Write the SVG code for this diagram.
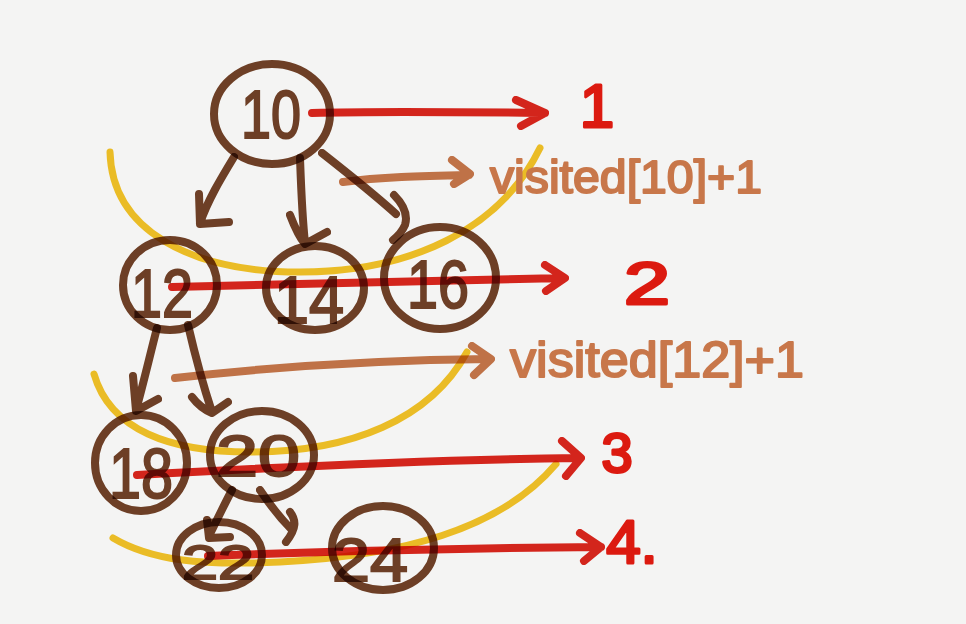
<svg xmlns="http://www.w3.org/2000/svg" width="966" height="624" viewBox="0 0 966 624">
<defs>
<style>
.bg{fill:#f4f4f3}
.node{fill:none;stroke:#724228;stroke-width:8;stroke-linecap:round;stroke-linejoin:round;mix-blend-mode:multiply}
.num{fill:#724228;stroke:#724228;stroke-width:2;font-family:"Liberation Sans",Arial,sans-serif;text-anchor:middle;mix-blend-mode:multiply}
.br{fill:none;stroke:#724228;stroke-width:8;stroke-linecap:round;stroke-linejoin:round;mix-blend-mode:multiply}
.red{fill:none;stroke:#dc1a10;stroke-width:8;stroke-linecap:round;stroke-linejoin:round;mix-blend-mode:multiply;opacity:0.95}
.org{fill:none;stroke:#c8774a;stroke-width:8;stroke-linecap:round;stroke-linejoin:round;mix-blend-mode:multiply}
.yel{fill:none;stroke:#f5c21c;stroke-width:7;stroke-linecap:round;mix-blend-mode:multiply;opacity:0.95}
.lbl{fill:#dc1a10;stroke:#dc1a10;stroke-width:3;stroke-linejoin:round;font-family:"Liberation Sans",Arial,sans-serif;text-anchor:middle}
.vis{fill:#c8774a;stroke:#c8774a;stroke-width:2;stroke-linejoin:round;font-family:"Liberation Sans",Arial,sans-serif}
</style>
</defs>
<rect class="bg" x="0" y="0" width="966" height="624"/>

<g id="levels">
<path class="yel" d="M110,152 C112,230 190,272 300,272 C410,272 500,230 540,148"/>
<path class="yel" d="M94,374 C110,430 170,452 250,452 C350,452 430,420 467,352"/>
<path class="yel" d="M113,538 C150,560 200,566 280,562 C400,556 500,530 556,464"/>
</g>

<g id="n10"><ellipse class="node" cx="272" cy="114" rx="58" ry="50"/><text class="num" x="271" y="138" font-size="68" textLength="60" lengthAdjust="spacingAndGlyphs">10</text></g>
<g id="n12"><ellipse class="node" cx="170" cy="285" rx="47" ry="45"/><text class="num" x="162" y="317" font-size="68" textLength="62" lengthAdjust="spacingAndGlyphs">12</text></g>
<g id="n14"><ellipse class="node" cx="315" cy="288" rx="49" ry="42"/><text class="num" x="309" y="323" font-size="66" textLength="70" lengthAdjust="spacingAndGlyphs">14</text></g>
<g id="n16"><ellipse class="node" cx="440" cy="278" rx="56" ry="51"/><text class="num" x="438" y="308" font-size="68" textLength="62" lengthAdjust="spacingAndGlyphs">16</text></g>
<g id="n18"><ellipse class="node" cx="141" cy="463" rx="46" ry="48"/><text class="num" x="141" y="498" font-size="70" textLength="64" lengthAdjust="spacingAndGlyphs">18</text></g>
<g id="n20"><ellipse class="node" cx="262" cy="455" rx="52" ry="44"/><text class="num" x="258" y="476" font-size="58" textLength="84" lengthAdjust="spacingAndGlyphs">20</text></g>
<g id="n22"><ellipse class="node" cx="219" cy="555" rx="43" ry="33"/><text class="num" x="218" y="579" font-size="48" textLength="72" lengthAdjust="spacingAndGlyphs">22</text></g>
<g id="n24"><ellipse class="node" cx="383" cy="548" rx="51" ry="42"/><text class="num" x="370" y="581" font-size="62" textLength="76" lengthAdjust="spacingAndGlyphs">24</text></g>

<g id="connectors">
<path class="br" d="M234,157 C220,180 208,200 200,223 M199,194 L200,224 L229,222"/>
<path class="br" d="M300,158 C301,185 302,215 305,243 M290,215 C295,228 300,238 305,244 L327,232"/>
<path class="br" d="M322,153 C350,175 375,195 396,214 M394,195 C404,205 408,215 405,225 C402,232 398,236 393,240"/>
<path class="br" d="M157,328 C150,355 143,385 136,410 M133,376 L136,411 L158,399"/>
<path class="br" d="M188,325 C195,355 203,385 212,412 M192,397 C198,405 205,410 212,413 L228,402"/>
<path class="br" d="M232,490 C224,505 217,520 209,536 M207,520 L209,538 L230,537"/>
<path class="br" d="M260,490 C270,505 280,518 292,530 M290,512 C296,520 297,528 286,542"/>

<path class="red" d="M312,113 C380,111 460,112 545,113 M516,100 L545,113 L521,126"/>
<path class="red" d="M172,287 C300,283 430,280 564,278 M545,265 L565,278 L546,291"/>
<path class="red" d="M137,475 C280,467 430,460 580,458 M562,441 L581,458 L566,476"/>
<path class="red" d="M208,556 C340,551 470,548 601,547 M580,533 L601,547 L584,561"/>

<path class="org" d="M343,182 C380,177 420,176 469,175 M452,160 L470,174 L454,184"/>
<path class="org" d="M175,378 C280,366 380,360 490,359 M472,346 L491,359 L474,375"/>
</g>

<g id="labels">
<text class="lbl" x="597" y="127" font-size="62">1</text>
<text class="lbl" x="647" y="304" font-size="60" textLength="46" lengthAdjust="spacingAndGlyphs">2</text>
<text class="lbl" x="617" y="472" font-size="56">3</text>
<text class="lbl" x="632" y="563" font-size="62">4.</text>
<text class="vis" x="490" y="193" font-size="46" textLength="272" lengthAdjust="spacingAndGlyphs">visited[10]+1</text>
<text class="vis" x="510" y="377" font-size="50" textLength="294" lengthAdjust="spacingAndGlyphs">visited[12]+1</text>
</g>
</svg>
